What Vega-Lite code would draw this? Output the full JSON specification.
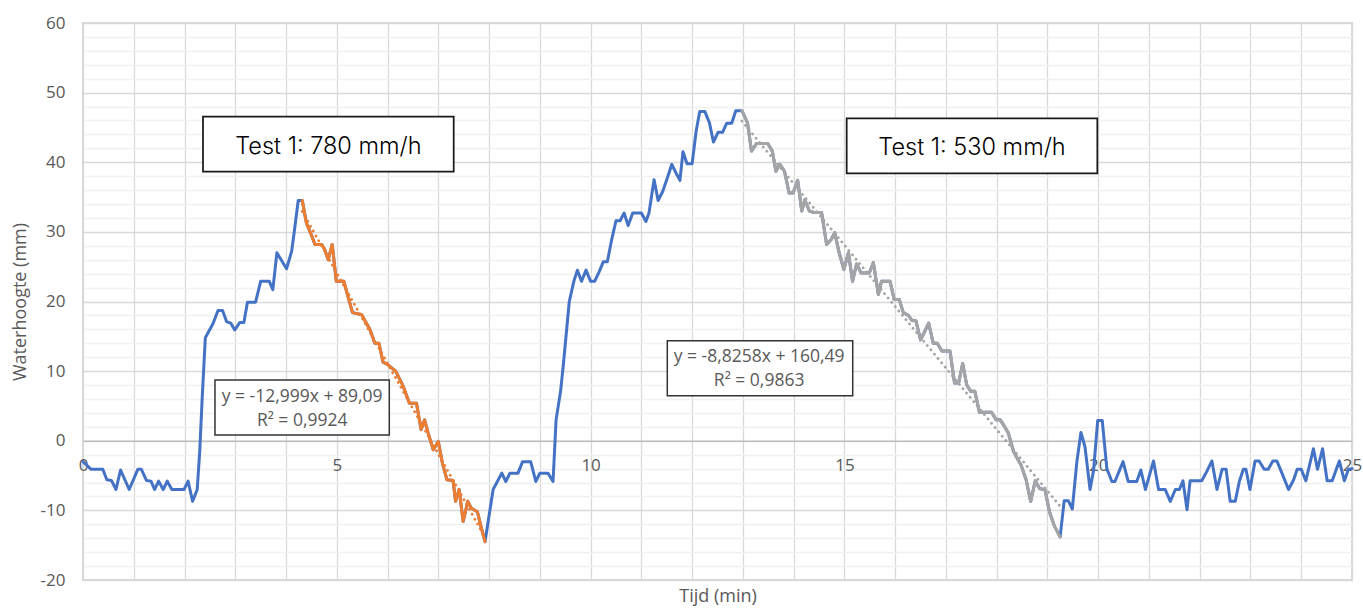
{
  "$schema": "https://vega.github.io/schema/vega-lite/v6.json",
  "width": 1269,
  "height": 557,
  "autosize": {"type": "none"},
  "padding": {"left": 83, "top": 23, "right": 11, "bottom": 31},
  "background": "white",
  "config": {
    "view": {"stroke": "#d9d9d9", "strokeWidth": 2},
    "font": "Open Sans"
  },
  "datasets": {
    "level": [
      {"t": 0, "h": -3.0}, {"t": 0.16, "h": -4.1}, {"t": 0.39, "h": -4.1}, {"t": 0.47, "h": -5.6},
      {"t": 0.56, "h": -5.7}, {"t": 0.65, "h": -7.0}, {"t": 0.74, "h": -4.2}, {"t": 0.91, "h": -7.0},
      {"t": 1.08, "h": -4.1}, {"t": 1.15, "h": -4.1}, {"t": 1.25, "h": -5.7}, {"t": 1.34, "h": -5.8},
      {"t": 1.41, "h": -7.0}, {"t": 1.49, "h": -5.8}, {"t": 1.58, "h": -7.0}, {"t": 1.66, "h": -5.8},
      {"t": 1.75, "h": -7.0}, {"t": 1.99, "h": -7.0}, {"t": 2.07, "h": -5.8}, {"t": 2.16, "h": -8.7},
      {"t": 2.25, "h": -7.0}, {"t": 2.30, "h": -1.5}, {"t": 2.35, "h": 6.4}, {"t": 2.41, "h": 14.8},
      {"t": 2.56, "h": 16.8}, {"t": 2.66, "h": 18.7}, {"t": 2.75, "h": 18.7}, {"t": 2.83, "h": 17.1},
      {"t": 2.91, "h": 16.9}, {"t": 2.99, "h": 15.9}, {"t": 3.09, "h": 17.0}, {"t": 3.17, "h": 17.0},
      {"t": 3.24, "h": 19.9}, {"t": 3.40, "h": 19.9}, {"t": 3.50, "h": 22.9}, {"t": 3.67, "h": 22.9},
      {"t": 3.74, "h": 21.7}, {"t": 3.82, "h": 27.0}, {"t": 4.01, "h": 24.7}, {"t": 4.11, "h": 27.2},
      {"t": 4.16, "h": 29.9}, {"t": 4.24, "h": 34.5}, {"t": 4.32, "h": 34.5},
      {"t": 4.40, "h": 31.3}, {"t": 4.48, "h": 29.9}, {"t": 4.57, "h": 28.2}, {"t": 4.70, "h": 28.2},
      {"t": 4.76, "h": 27.5}, {"t": 4.83, "h": 26.0}, {"t": 4.91, "h": 28.2}, {"t": 4.99, "h": 22.9},
      {"t": 5.14, "h": 22.9}, {"t": 5.22, "h": 20.7}, {"t": 5.31, "h": 18.4}, {"t": 5.49, "h": 18.1},
      {"t": 5.65, "h": 16.0}, {"t": 5.75, "h": 14.0}, {"t": 5.83, "h": 14.0}, {"t": 5.91, "h": 11.3},
      {"t": 5.99, "h": 11.0}, {"t": 6.16, "h": 10.0}, {"t": 6.31, "h": 7.8}, {"t": 6.43, "h": 5.4},
      {"t": 6.57, "h": 5.4}, {"t": 6.66, "h": 1.6}, {"t": 6.73, "h": 3.0}, {"t": 6.80, "h": 1.1},
      {"t": 6.90, "h": -1.3}, {"t": 7.00, "h": -0.1}, {"t": 7.08, "h": -3.2}, {"t": 7.17, "h": -5.6},
      {"t": 7.29, "h": -5.7}, {"t": 7.34, "h": -8.7}, {"t": 7.41, "h": -7.0}, {"t": 7.49, "h": -11.6},
      {"t": 7.58, "h": -8.7}, {"t": 7.65, "h": -9.7}, {"t": 7.77, "h": -10.2}, {"t": 7.84, "h": -12.3},
      {"t": 7.92, "h": -14.5},
      {"t": 8.08, "h": -7.0}, {"t": 8.25, "h": -4.65}, {"t": 8.33, "h": -5.85}, {"t": 8.41, "h": -4.65},
      {"t": 8.57, "h": -4.65}, {"t": 8.66, "h": -3.0}, {"t": 8.82, "h": -3.0}, {"t": 8.92, "h": -5.85},
      {"t": 9.00, "h": -4.65}, {"t": 9.16, "h": -4.65}, {"t": 9.26, "h": -5.85}, {"t": 9.32, "h": 3.0},
      {"t": 9.41, "h": 7.2}, {"t": 9.46, "h": 10.7}, {"t": 9.58, "h": 20.0}, {"t": 9.67, "h": 22.9},
      {"t": 9.74, "h": 24.5}, {"t": 9.82, "h": 22.9}, {"t": 9.91, "h": 24.5}, {"t": 10.00, "h": 22.9},
      {"t": 10.08, "h": 22.9}, {"t": 10.17, "h": 24.3}, {"t": 10.25, "h": 25.7}, {"t": 10.33, "h": 25.7},
      {"t": 10.41, "h": 28.7}, {"t": 10.50, "h": 31.6}, {"t": 10.58, "h": 31.6}, {"t": 10.66, "h": 32.7},
      {"t": 10.74, "h": 30.9}, {"t": 10.83, "h": 32.7}, {"t": 11.00, "h": 32.7}, {"t": 11.09, "h": 31.5},
      {"t": 11.15, "h": 32.7}, {"t": 11.25, "h": 37.5}, {"t": 11.33, "h": 34.5}, {"t": 11.42, "h": 35.8},
      {"t": 11.50, "h": 37.5}, {"t": 11.60, "h": 39.7}, {"t": 11.68, "h": 38.5}, {"t": 11.76, "h": 37.4},
      {"t": 11.82, "h": 41.5}, {"t": 11.90, "h": 39.8}, {"t": 12.00, "h": 39.8}, {"t": 12.08, "h": 44.5},
      {"t": 12.15, "h": 47.3}, {"t": 12.25, "h": 47.3}, {"t": 12.34, "h": 45.7}, {"t": 12.42, "h": 42.9},
      {"t": 12.51, "h": 44.3}, {"t": 12.60, "h": 44.3}, {"t": 12.68, "h": 45.6}, {"t": 12.78, "h": 45.6},
      {"t": 12.86, "h": 47.4}, {"t": 12.98, "h": 47.4},
      {"t": 13.09, "h": 45.7}, {"t": 13.17, "h": 41.6}, {"t": 13.27, "h": 42.7}, {"t": 13.49, "h": 42.7},
      {"t": 13.58, "h": 41.6}, {"t": 13.65, "h": 38.7}, {"t": 13.73, "h": 39.7}, {"t": 13.82, "h": 38.7},
      {"t": 13.91, "h": 35.6}, {"t": 13.99, "h": 35.6}, {"t": 14.08, "h": 37.4}, {"t": 14.16, "h": 33.0},
      {"t": 14.22, "h": 34.6}, {"t": 14.31, "h": 33.0}, {"t": 14.39, "h": 32.8}, {"t": 14.55, "h": 32.8},
      {"t": 14.65, "h": 28.2}, {"t": 14.74, "h": 28.9}, {"t": 14.81, "h": 29.9}, {"t": 14.89, "h": 27.2},
      {"t": 14.99, "h": 24.6}, {"t": 15.08, "h": 27.0}, {"t": 15.16, "h": 22.9}, {"t": 15.24, "h": 25.4},
      {"t": 15.33, "h": 24.1}, {"t": 15.49, "h": 24.1}, {"t": 15.57, "h": 25.6}, {"t": 15.67, "h": 21.0},
      {"t": 15.73, "h": 22.9}, {"t": 15.90, "h": 22.9}, {"t": 15.98, "h": 20.3}, {"t": 16.08, "h": 20.3},
      {"t": 16.16, "h": 18.4}, {"t": 16.26, "h": 18.0}, {"t": 16.33, "h": 17.3}, {"t": 16.41, "h": 17.2},
      {"t": 16.50, "h": 14.5}, {"t": 16.59, "h": 15.8}, {"t": 16.66, "h": 16.9}, {"t": 16.75, "h": 14.0},
      {"t": 16.83, "h": 14.0}, {"t": 16.92, "h": 12.9}, {"t": 17.08, "h": 12.9}, {"t": 17.17, "h": 8.3},
      {"t": 17.25, "h": 8.3}, {"t": 17.33, "h": 11.1}, {"t": 17.41, "h": 8.0}, {"t": 17.49, "h": 7.1},
      {"t": 17.57, "h": 7.1}, {"t": 17.66, "h": 4.1}, {"t": 17.90, "h": 4.1}, {"t": 17.99, "h": 3.0},
      {"t": 18.07, "h": 3.0}, {"t": 18.15, "h": 2.1}, {"t": 18.23, "h": 1.1}, {"t": 18.33, "h": -1.5},
      {"t": 18.41, "h": -2.6}, {"t": 18.48, "h": -3.5}, {"t": 18.58, "h": -5.6}, {"t": 18.67, "h": -8.7},
      {"t": 18.76, "h": -5.75}, {"t": 18.85, "h": -6.9}, {"t": 18.95, "h": -7.0}, {"t": 19.04, "h": -10.2},
      {"t": 19.14, "h": -12.3}, {"t": 19.25, "h": -13.8},
      {"t": 19.33, "h": -8.6}, {"t": 19.41, "h": -8.6}, {"t": 19.49, "h": -9.8}, {"t": 19.58, "h": -3.0},
      {"t": 19.66, "h": 1.2}, {"t": 19.74, "h": -0.9}, {"t": 19.84, "h": -7.0}, {"t": 19.91, "h": -4.2},
      {"t": 19.99, "h": 2.9}, {"t": 20.08, "h": 2.9}, {"t": 20.17, "h": -4.0}, {"t": 20.27, "h": -5.85},
      {"t": 20.33, "h": -5.85}, {"t": 20.49, "h": -3.0}, {"t": 20.59, "h": -5.85}, {"t": 20.76, "h": -5.85},
      {"t": 20.84, "h": -4.2}, {"t": 20.93, "h": -7.0}, {"t": 21.09, "h": -2.9}, {"t": 21.19, "h": -7.0},
      {"t": 21.32, "h": -7.0}, {"t": 21.42, "h": -8.7}, {"t": 21.52, "h": -7.0}, {"t": 21.60, "h": -7.0},
      {"t": 21.67, "h": -5.75}, {"t": 21.75, "h": -9.9}, {"t": 21.81, "h": -5.75}, {"t": 22.04, "h": -5.75},
      {"t": 22.14, "h": -4.4}, {"t": 22.24, "h": -2.9}, {"t": 22.34, "h": -7.0}, {"t": 22.44, "h": -4.1},
      {"t": 22.52, "h": -4.1}, {"t": 22.60, "h": -8.7}, {"t": 22.70, "h": -8.7}, {"t": 22.78, "h": -5.85},
      {"t": 22.86, "h": -4.1}, {"t": 22.91, "h": -4.1}, {"t": 22.99, "h": -7.0}, {"t": 23.09, "h": -2.9},
      {"t": 23.17, "h": -2.9}, {"t": 23.27, "h": -4.1}, {"t": 23.35, "h": -4.1}, {"t": 23.44, "h": -2.9},
      {"t": 23.52, "h": -2.9}, {"t": 23.62, "h": -4.65}, {"t": 23.75, "h": -7.0}, {"t": 23.85, "h": -5.6},
      {"t": 23.92, "h": -4.1}, {"t": 24.00, "h": -4.1}, {"t": 24.09, "h": -5.75}, {"t": 24.24, "h": -1.15},
      {"t": 24.32, "h": -4.1}, {"t": 24.42, "h": -1.15}, {"t": 24.51, "h": -5.75}, {"t": 24.61, "h": -5.75},
      {"t": 24.75, "h": -2.9}, {"t": 24.85, "h": -5.75}, {"t": 24.93, "h": -4.1}, {"t": 25.00, "h": -4.0}
    ],
    "trend": [
      {"fit": "780", "t": 4.32, "h": 32.93},
      {"fit": "780", "t": 7.92, "h": -13.86},
      {"fit": "530", "t": 12.98, "h": 45.93},
      {"fit": "530", "t": 19.25, "h": -9.41}
    ]
  },
  "resolve": {"axis": {"x": "independent", "y": "independent"}},
  "layer": [
    {
      "data": {"name": "level"},
      "mark": {"type": "line", "color": "#4472C4", "strokeWidth": 3, "strokeJoin": "round", "strokeCap": "round"},
      "encoding": {
        "x": {
          "field": "t", "type": "quantitative",
          "scale": {"domain": [0, 25], "nice": false, "zero": false},
          "axis": {
            "orient": "bottom",
            "values": [0, 1, 2, 3, 4, 5, 6, 7, 8, 9, 10, 11, 12, 13, 14, 15, 16, 17, 18, 19, 20, 21, 22, 23, 24, 25],
            "labels": false, "ticks": false, "domain": false, "title": null,
            "grid": true, "gridColor": "#d9d9d9", "gridWidth": 1.3
          }
        },
        "y": {
          "field": "h", "type": "quantitative",
          "scale": {"domain": [-20, 60], "nice": false, "zero": false},
          "axis": {
            "orient": "left",
            "values": [-18, -16, -14, -12, -8, -6, -4, -2, 2, 4, 6, 8, 12, 14, 16, 18, 22, 24, 26, 28, 32, 34, 36, 38, 42, 44, 46, 48, 52, 54, 56, 58],
            "labels": false, "ticks": false, "domain": false, "title": null,
            "grid": true, "gridColor": "#f0f0f0", "gridWidth": 1.3
          }
        }
      }
    },
    {
      "data": {"name": "level"},
      "transform": [{"filter": "datum.t >= 4.3 && datum.t <= 7.93"}],
      "mark": {"type": "line", "color": "#ED7D31", "strokeWidth": 3, "strokeJoin": "round", "strokeCap": "round"},
      "encoding": {
        "x": {
          "field": "t", "type": "quantitative",
          "scale": {"domain": [0, 25], "nice": false, "zero": false},
          "axis": {
            "orient": "bottom",
            "offset": -139.25,
            "values": [0, 5, 10, 15, 20, 25],
            "grid": false, "ticks": false, "tickSize": 0,
            "domain": true, "domainColor": "#bfbfbf", "domainWidth": 1.5,
            "labelFlush": false, "labelOverlap": false, "labelPadding": 17,
            "labelFont": "Open Sans", "labelFontSize": 17, "labelColor": "#595959",
            "title": "Tijd (min)",
            "titleFont": "Open Sans", "titleFontSize": 18, "titleFontWeight": "normal", "titleColor": "#595959",
            "titleY": 156, "titleBaseline": "middle"
          }
        },
        "y": {
          "field": "h", "type": "quantitative",
          "scale": {"domain": [-20, 60], "nice": false, "zero": false},
          "axis": {
            "orient": "left",
            "values": [-20, -10, 0, 10, 20, 30, 40, 50, 60],
            "labelExpr": "'' + datum.value",
            "grid": true, "gridColor": "#d9d9d9", "gridWidth": 1.3,
            "domain": false, "ticks": false, "tickSize": 0,
            "labelPadding": 18, "labelFont": "Open Sans", "labelFontSize": 17, "labelColor": "#595959",
            "labelOverlap": false,
            "title": "Waterhoogte (mm)",
            "titleFont": "Open Sans", "titleFontSize": 18, "titleFontWeight": "normal", "titleColor": "#595959",
            "titleAngle": -90, "titleX": -63, "titleY": 278.5, "titleAlign": "center", "titleBaseline": "middle"
          }
        }
      }
    },
    {
      "data": {"name": "level"},
      "transform": [{"filter": "datum.t >= 12.97 && datum.t <= 19.26"}],
      "mark": {"type": "line", "color": "#A5A5A5", "strokeWidth": 3, "strokeJoin": "round", "strokeCap": "round"},
      "encoding": {
        "x": {"field": "t", "type": "quantitative", "scale": {"domain": [0, 25], "nice": false, "zero": false}, "axis": null},
        "y": {"field": "h", "type": "quantitative", "scale": {"domain": [-20, 60], "nice": false, "zero": false}, "axis": null}
      }
    },
    {
      "data": {"name": "trend"},
      "mark": {"type": "line", "strokeWidth": 2.75, "strokeDash": [0.1, 5.5], "strokeCap": "round"},
      "encoding": {
        "x": {"field": "t", "type": "quantitative", "scale": {"domain": [0, 25], "nice": false, "zero": false}, "axis": null},
        "y": {"field": "h", "type": "quantitative", "scale": {"domain": [-20, 60], "nice": false, "zero": false}, "axis": null},
        "color": {"field": "fit", "type": "nominal", "scale": {"domain": ["780", "530"], "range": ["#ED7D31", "#A5A5A5"]}, "legend": null}
      }
    },
    {
      "data": {"values": [{}]},
      "mark": {"type": "rect", "fill": "white", "stroke": "#1a1a1a", "strokeWidth": 1.75},
      "encoding": {
        "x": {"datum": 2.364, "type": "quantitative", "scale": {"domain": [0, 25], "nice": false, "zero": false}, "axis": null},
        "x2": {"datum": 7.303},
        "y": {"datum": 46.54, "type": "quantitative", "scale": {"domain": [-20, 60], "nice": false, "zero": false}, "axis": null},
        "y2": {"datum": 38.64}
      }
    },
    {
      "data": {"values": [{}]},
      "mark": {"type": "rect", "fill": "white", "stroke": "#1a1a1a", "strokeWidth": 1.75},
      "encoding": {
        "x": {"datum": 15.045, "type": "quantitative", "scale": {"domain": [0, 25], "nice": false, "zero": false}, "axis": null},
        "x2": {"datum": 19.983},
        "y": {"datum": 46.31, "type": "quantitative", "scale": {"domain": [-20, 60], "nice": false, "zero": false}, "axis": null},
        "y2": {"datum": 38.41}
      }
    },
    {
      "data": {"values": [{}]},
      "mark": {"type": "rect", "fill": "white", "stroke": "#333333", "strokeWidth": 1.5},
      "encoding": {
        "x": {"datum": 2.6, "type": "quantitative", "scale": {"domain": [0, 25], "nice": false, "zero": false}, "axis": null},
        "x2": {"datum": 6.034},
        "y": {"datum": 8.725, "type": "quantitative", "scale": {"domain": [-20, 60], "nice": false, "zero": false}, "axis": null},
        "y2": {"datum": 0.826}
      }
    },
    {
      "data": {"values": [{}]},
      "mark": {"type": "rect", "fill": "white", "stroke": "#333333", "strokeWidth": 1.5},
      "encoding": {
        "x": {"datum": 11.511, "type": "quantitative", "scale": {"domain": [0, 25], "nice": false, "zero": false}, "axis": null},
        "x2": {"datum": 15.164},
        "y": {"datum": 14.37, "type": "quantitative", "scale": {"domain": [-20, 60], "nice": false, "zero": false}, "axis": null},
        "y2": {"datum": 6.47}
      }
    },
    {
      "data": {"values": [{}]},
      "mark": {"type": "text", "font": "Inter", "fontSize": 23.5, "fontWeight": 300, "color": "#000000", "align": "center", "baseline": "middle"},
      "encoding": {
        "x": {"datum": 4.834, "type": "quantitative", "scale": {"domain": [0, 25], "nice": false, "zero": false}, "axis": null},
        "y": {"datum": 42.2, "type": "quantitative", "scale": {"domain": [-20, 60], "nice": false, "zero": false}, "axis": null},
        "text": {"value": "Test 1: 780 mm/h"}
      }
    },
    {
      "data": {"values": [{}]},
      "mark": {"type": "text", "font": "Inter", "fontSize": 23.5, "fontWeight": 300, "color": "#000000", "align": "center", "baseline": "middle"},
      "encoding": {
        "x": {"datum": 17.514, "type": "quantitative", "scale": {"domain": [0, 25], "nice": false, "zero": false}, "axis": null},
        "y": {"datum": 42.0, "type": "quantitative", "scale": {"domain": [-20, 60], "nice": false, "zero": false}, "axis": null},
        "text": {"value": "Test 1: 530 mm/h"}
      }
    },
    {
      "data": {"values": [{}]},
      "mark": {"type": "text", "font": "Open Sans", "fontSize": 17.5, "color": "#595959", "align": "center", "baseline": "middle", "lineHeight": 24},
      "encoding": {
        "x": {"datum": 4.318, "type": "quantitative", "scale": {"domain": [0, 25], "nice": false, "zero": false}, "axis": null},
        "y": {"datum": 6.33, "type": "quantitative", "scale": {"domain": [-20, 60], "nice": false, "zero": false}, "axis": null},
        "text": {"value": ["y = -12,999x + 89,09", "R² = 0,9924"]}
      }
    },
    {
      "data": {"values": [{}]},
      "mark": {"type": "text", "font": "Open Sans", "fontSize": 17.5, "color": "#595959", "align": "center", "baseline": "middle", "lineHeight": 24},
      "encoding": {
        "x": {"datum": 13.32, "type": "quantitative", "scale": {"domain": [0, 25], "nice": false, "zero": false}, "axis": null},
        "y": {"datum": 11.99, "type": "quantitative", "scale": {"domain": [-20, 60], "nice": false, "zero": false}, "axis": null},
        "text": {"value": ["y = -8,8258x + 160,49", "R² = 0,9863"]}
      }
    }
  ]
}
